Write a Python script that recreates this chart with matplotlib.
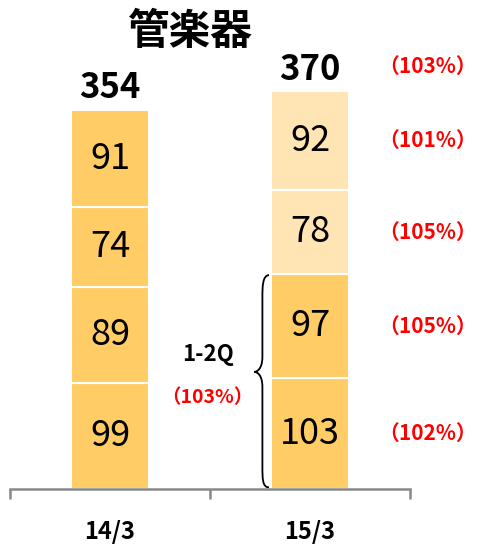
import matplotlib
matplotlib.use("Agg")
import matplotlib.pyplot as plt
from matplotlib.path import Path
from matplotlib.patches import PathPatch
import numpy as np

plt.rcParams['font.family'] = ['Noto Sans CJK JP', 'DejaVu Sans']

categories = ['14/3', '15/3']
q1 = [99, 103]
q2 = [89, 97]
q3 = [74, 78]
q4 = [91, 92]
totals = [354, 370]
yoy_total = '（103%）'
yoy_quarters = ['（102%）', '（105%）', '（105%）', '（101%）']  # q1..q4 of 15/3
h1_label = '1-2Q'
h1_pct = '（103%）'
title = '管楽器'

orange = '#FFCC66'
pale = '#FFE5B4'
red = '#FF0000'

fig = plt.figure(figsize=(4.79, 5.47), dpi=100)
ax = fig.add_axes([10/479, 58/547, 400/479, 489/547])
ax.set_xlim(0, 2)
ax.set_ylim(0, 455)

xpos = np.array([0.5, 1.5])
width = 0.39
series = [q1, q2, q3, q4]
colors = [[orange, orange], [orange, orange], [orange, pale], [orange, pale]]
bottom = np.zeros(2)
num_font = ['Noto Sans CJK JP', 'DejaVu Sans']
centers = []
for s, cols in zip(series, colors):
    vals = np.array(s, dtype=float)
    ax.bar(xpos, vals, width=width, bottom=bottom, color=cols,
           edgecolor='white', linewidth=1.5)
    c = bottom + vals / 2
    centers.append(c)
    for x, y, v in zip(xpos, c, vals):
        ax.text(x, y, f'{int(v)}', ha='center', va='center', fontsize=26,
                family=num_font)
    bottom = bottom + vals

for x, t in zip(xpos, totals):
    ax.text(x, t + 20, f'{t}', ha='center', va='center', fontsize=25,
            fontweight='bold', family=num_font)

# YoY percentages for 15/3
xp = 2.09
ax.text(xp, totals[1] + 23, yoy_total, ha='center', va='center', fontsize=15,
        color=red, fontweight='bold', clip_on=False)
for c, lab in zip(centers, yoy_quarters):
    ax.text(xp, c[1], lab, ha='center', va='center', fontsize=15,
            color=red, fontweight='bold', clip_on=False)

# brace for 1-2Q
xr, xm, xt = 1.295, 1.262, 1.222
ytop, ybot = q1[1] + q2[1] - 1, 1.5
ymid = 109
verts = [
    (xr, ytop), (xm, ytop), (xm, ytop - 12), (xm, ytop - 20),
    (xm, ymid + 14),
    (xm, ymid + 2), (xt + 0.01, ymid), (xt, ymid),
    (xt + 0.01, ymid), (xm, ymid - 2), (xm, ymid - 14),
    (xm, ybot + 20),
    (xm, ybot + 8), (xm, ybot), (xr, ybot),
]
codes = [Path.MOVETO, Path.CURVE4, Path.CURVE4, Path.CURVE4,
         Path.LINETO,
         Path.CURVE4, Path.CURVE4, Path.CURVE4,
         Path.CURVE4, Path.CURVE4, Path.CURVE4,
         Path.LINETO,
         Path.CURVE4, Path.CURVE4, Path.CURVE4]
ax.add_patch(PathPatch(Path(verts, codes), fill=False, lw=1.3, ec='black',
                       clip_on=False))
ax.text(0.99, 125, h1_label, ha='center', va='center', fontsize=16,
        fontweight='bold')
ax.text(0.985, 85, h1_pct, ha='center', va='center', fontsize=14,
        fontweight='bold', color=red)

ax.text(0.9, 425, title, ha='center', va='center', fontsize=30,
        fontweight='bold')

for sp in ['top', 'right', 'left']:
    ax.spines[sp].set_visible(False)
ax.spines['bottom'].set_color('#888888')
ax.spines['bottom'].set_linewidth(1.8)
ax.set_yticks([])
ax.set_xticks([0, 1, 2])
ax.set_xticklabels([])
ax.tick_params(axis='x', direction='out', length=7, width=1.8, color='#888888')
for x, lab in zip(xpos, categories):
    ax.text(x, -40, lab, ha='center', va='center', fontsize=17,
            fontweight='bold', family=num_font, clip_on=False)

fig.savefig('out.png', dpi=100)
